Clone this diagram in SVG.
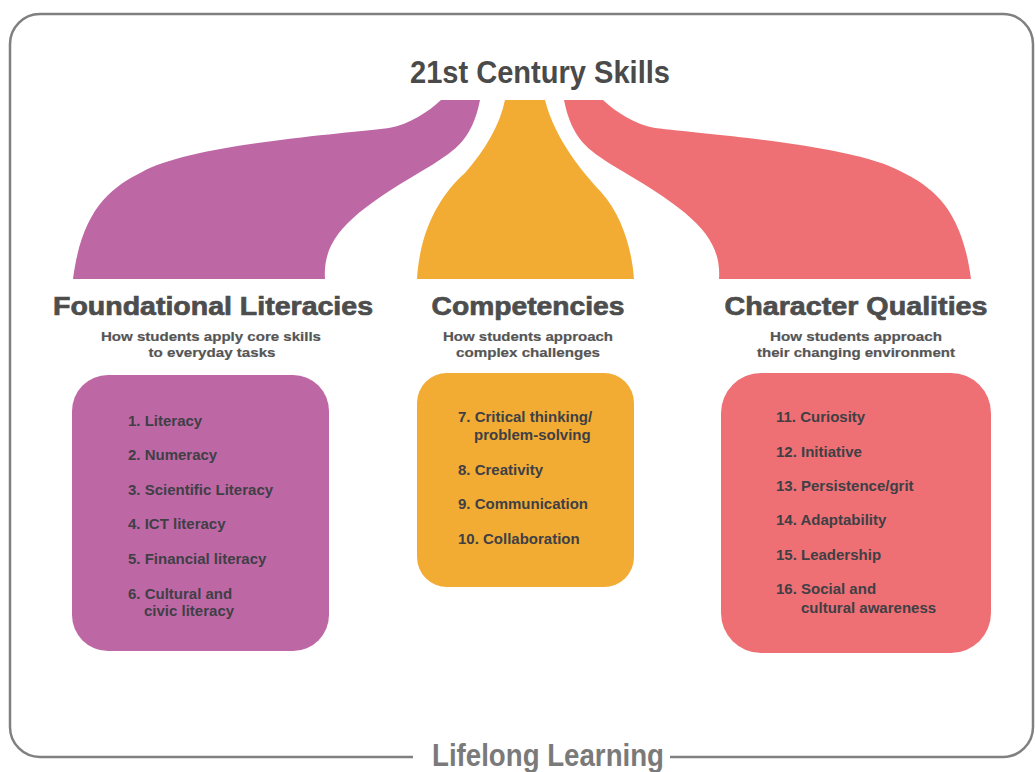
<svg xmlns="http://www.w3.org/2000/svg" width="1035" height="772" viewBox="0 0 1035 772">
  <style>
    .frame { fill: none; stroke: #808080; stroke-width: 2.5; }
    .title { font-family: "Liberation Sans Narrow", "Liberation Sans", Arial, sans-serif; font-weight: bold; font-size: 32px; }
    .head { font-family: "Liberation Sans", Arial, sans-serif; font-weight: bold; font-size: 26px; fill: #4d4d4d; stroke: #4d4d4d; stroke-width: 0.7; text-anchor: middle; }
    .sub { font-family: "Liberation Sans", Arial, sans-serif; font-weight: bold; font-size: 13.5px; fill: #555555; stroke: #555555; stroke-width: 0.2; text-anchor: middle; }
    .item { font-family: "Liberation Sans", Arial, sans-serif; font-weight: bold; font-size: 15px; fill: #3f3f45; }
    .purple { fill: #BE67A5; }
    .orange { fill: #F2AC33; }
    .red { fill: #EE7074; }
  </style>

  <rect width="1035" height="772" fill="#ffffff"/>

  <!-- outer frame, open at the bottom for the caption -->
  <path class="frame" d="M413,757 L40,757 A30,30 0 0 1 10,727 L10,44 A30,30 0 0 1 40,14 L1003,14 A30,30 0 0 1 1033,44 L1033,727 A30,30 0 0 1 1003,757 L670,757"/>

  <text class="title" x="540" y="83" text-anchor="middle" fill="#4a4a4a" textLength="260" lengthAdjust="spacingAndGlyphs">21st Century Skills</text>
  <text class="title" x="548" y="766" text-anchor="middle" fill="#7a7a7a" textLength="232" lengthAdjust="spacingAndGlyphs">Lifelong Learning</text>

  <!-- connectors: branches fanning out from the title -->
  <g id="connectors">
    <path class="purple" d="M441,100 L480,100 C472,140 455,150 432,165 C355,210 322,235 325,279 L73,279 C82,210 110,188 142,172 C190,145 330,135 389,128 C410,124 428,112 441,100 Z"/>
    <path class="orange" d="M505,100 L545,100 C555,140 585,175 601,192 C622,215 632,250 634,279 L417,279 C420,230 440,195 465,173 C485,150 500,125 505,100 Z"/>
    <path class="red" d="M564,100 L603,100 C616,112 634,124 655,128 C714,135 854,145 902,172 C934,188 962,210 971,279 L719,279 C722,235 689,210 612,165 C589,150 572,140 564,100 Z"/>
  </g>

  <g id="foundational">
    <text class="head" x="213" y="315" textLength="320" lengthAdjust="spacingAndGlyphs">Foundational Literacies</text>
    <text class="sub" x="211" y="341" textLength="220" lengthAdjust="spacingAndGlyphs">How students apply core skills</text>
    <text class="sub" x="212" y="357" textLength="127" lengthAdjust="spacingAndGlyphs">to everyday tasks</text>
    <rect class="purple" x="72" y="375" width="257" height="276" rx="36"/>
    <text class="item" x="128" y="426">1. Literacy</text>
    <text class="item" x="128" y="460">2. Numeracy</text>
    <text class="item" x="128" y="495">3. Scientific Literacy</text>
    <text class="item" x="128" y="529">4. ICT literacy</text>
    <text class="item" x="128" y="564">5. Financial literacy</text>
    <text class="item" x="128" y="599">6. Cultural and</text>
    <text class="item" x="144" y="616">civic literacy</text>
  </g>

  <g id="competencies">
    <text class="head" x="528" y="315" textLength="193" lengthAdjust="spacingAndGlyphs">Competencies</text>
    <text class="sub" x="528" y="341" textLength="170" lengthAdjust="spacingAndGlyphs">How students approach</text>
    <text class="sub" x="528" y="357" textLength="144" lengthAdjust="spacingAndGlyphs">complex challenges</text>
    <rect class="orange" x="417" y="373" width="217" height="214" rx="30"/>
    <text class="item" x="458" y="422">7. Critical thinking/</text>
    <text class="item" x="474" y="440">problem-solving</text>
    <text class="item" x="458" y="475">8. Creativity</text>
    <text class="item" x="458" y="509">9. Communication</text>
    <text class="item" x="458" y="544">10. Collaboration</text>
  </g>

  <g id="character">
    <text class="head" x="856" y="315" textLength="263" lengthAdjust="spacingAndGlyphs">Character Qualities</text>
    <text class="sub" x="856" y="341" textLength="172" lengthAdjust="spacingAndGlyphs">How students approach</text>
    <text class="sub" x="856" y="357" textLength="198" lengthAdjust="spacingAndGlyphs">their changing environment</text>
    <rect class="red" x="721" y="373" width="270" height="280" rx="40"/>
    <text class="item" x="776" y="422">11. Curiosity</text>
    <text class="item" x="776" y="457">12. Initiative</text>
    <text class="item" x="776" y="491">13. Persistence/grit</text>
    <text class="item" x="776" y="525">14. Adaptability</text>
    <text class="item" x="776" y="560">15. Leadership</text>
    <text class="item" x="776" y="594">16. Social and</text>
    <text class="item" x="801" y="613">cultural awareness</text>
  </g>
</svg>
